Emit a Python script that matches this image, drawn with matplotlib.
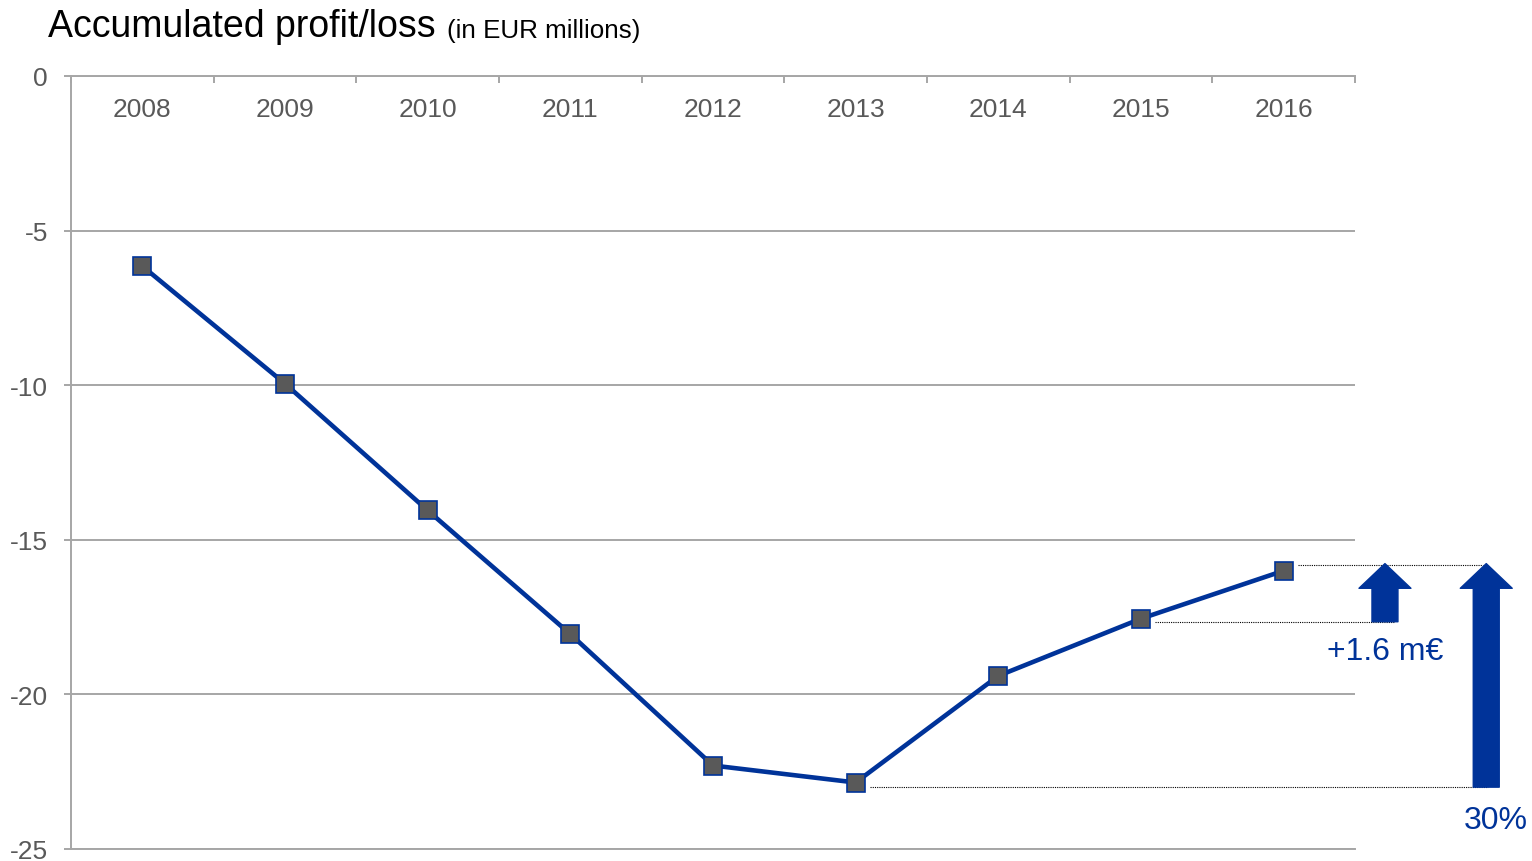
#!/usr/bin/env python3
"""Accumulated profit/loss line chart with improvement arrows."""

import matplotlib.pyplot as plt
from matplotlib.patches import FancyArrowPatch
from matplotlib.ticker import FixedLocator

YEARS = ["2008", "2009", "2010", "2011", "2012", "2013", "2014", "2015", "2016"]
PROFIT_LOSS = [-6.15, -9.95, -14.05, -18.05, -22.3, -22.85, -19.4, -17.55, -16.0]
Y_TICKS = [0, -5, -10, -15, -20, -25]
STEP_LABEL = "+1.6 m€"
TOTAL_LABEL = "30%"

BLUE = "#003399"
GRID = "#a6a6a6"
TEXT = "#595959"

plt.rcParams["font.family"] = ["Liberation Sans", "DejaVu Sans"]
plt.rcParams["axes.unicode_minus"] = False

W, H = 1532, 862
fig = plt.figure(figsize=(W / 100, H / 100), dpi=100)
ax = fig.add_axes([71 / W, 12 / H, (1355 - 71) / W, (850 - 77) / H])

x = list(range(len(YEARS)))
ax.plot(x, PROFIT_LOSS, color=BLUE, lw=3.3, marker="s", ms=13,
        mfc="#595959", mec=BLUE, mew=1.2, zorder=5, clip_on=False)

ax.set_xlim(-0.5, len(YEARS) - 0.5)
ax.set_ylim(-25, 0)

# y axis
ax.set_yticks(Y_TICKS)
ax.set_yticklabels([str(v) for v in Y_TICKS])
ax.tick_params(axis="y", direction="out", length=5, width=1.4, color=GRID,
               labelsize=19, labelcolor=TEXT, pad=11.5)
ax.yaxis.grid(True, color=GRID, lw=1.4)
ax.set_axisbelow(True)

# x axis on top, labels inside the plot
ax.xaxis.tick_top()
ax.set_xticks(x)
ax.set_xticklabels(YEARS)
ax.xaxis.set_minor_locator(FixedLocator([i - 0.5 for i in range(len(YEARS) + 1)]))
ax.tick_params(axis="x", which="major", length=0, labelsize=19,
               labelcolor=TEXT, pad=-23.5)
ax.tick_params(axis="x", which="minor", top=True, bottom=False,
               direction="in", length=5, width=1.4, color=GRID)
for lbl in ax.get_xticklabels():
    lbl.set_verticalalignment("center")

for side in ("top", "bottom", "left"):
    ax.spines[side].set_color(GRID)
    ax.spines[side].set_linewidth(1.4)
ax.spines["right"].set_visible(False)

# improvement annotations (hand-placed guide levels sit a touch off the markers)
low = min(PROFIT_LOSS) - 0.15
prev, last = PROFIT_LOSS[-2] - 0.1, PROFIT_LOSS[-1] + 0.18
dot = dict(color="black", lw=0.8, ls=(0, (1, 1)), clip_on=False, zorder=3)
ax.plot([8.10, 9.40], [last, last], **dot)
ax.plot([7.10, 8.77], [prev, prev], **dot)
ax.plot([5.10, 9.43], [low, low], **dot)

style = "simple,head_length=0.95,head_width=2.0,tail_width=1.0"
for xa, y0 in ((8.71, prev), (9.42, low)):
    arr = FancyArrowPatch(posA=(xa, y0), posB=(xa, last + 0.05), arrowstyle=style,
                          mutation_scale=18.7, color=BLUE, shrinkA=0,
                          shrinkB=0, clip_on=False, zorder=4)
    ax.add_patch(arr)

ax.text(8.71, -18.6, STEP_LABEL, color=BLUE, fontsize=23,
        ha="center", va="center", clip_on=False)
ax.text(9.49, -24.05, TOTAL_LABEL, color=BLUE, fontsize=23,
        ha="center", va="center", clip_on=False)

# title
t1 = fig.text(48 / W, 1 - 37 / H, "Accumulated profit/loss", fontsize=27,
              color="black", va="baseline")
ax.annotate("(in EUR millions)", xy=(1, 0), xycoords=t1, xytext=(8, 1.6),
            textcoords="offset points", fontsize=18.7, color="black",
            ha="left", va="bottom", annotation_clip=False)

fig.savefig("out.png", dpi=100)
